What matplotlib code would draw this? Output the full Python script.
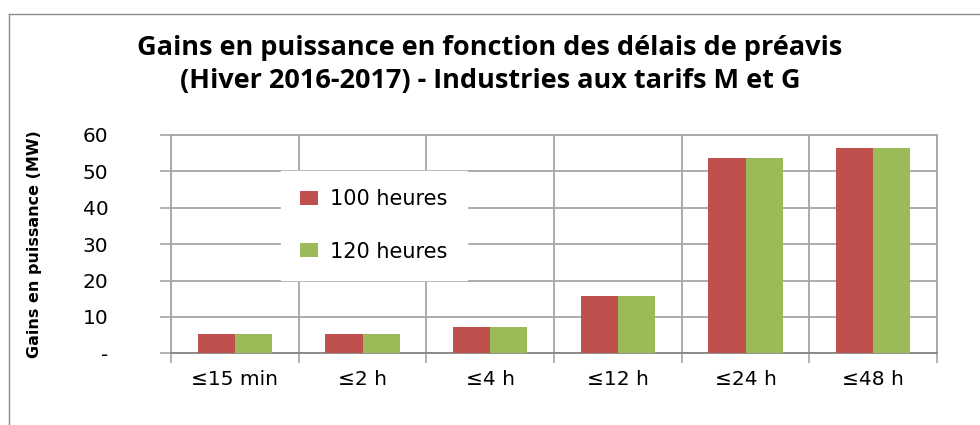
import matplotlib.pyplot as plt
from matplotlib.lines import Line2D
import numpy as np

categories = ["≤15 min", "≤2 h", "≤4 h", "≤12 h", "≤24 h", "≤48 h"]
h100 = [5.3, 5.3, 7.3, 15.7, 53.6, 56.4]
h120 = [5.3, 5.3, 7.3, 15.7, 53.6, 56.4]
series_labels = ["100 heures", "120 heures"]
yticks = [0, 10, 20, 30, 40, 50, 60]
ytick_labels = ["-", "10", "20", "30", "40", "50", "60"]

red = "#C0504D"
green = "#9BBB59"
grid_col = "#A6A6A6"

fig = plt.figure(figsize=(9.8, 4.25), dpi=100)
ax = fig.add_axes([171/980, 1-353.3/425, (937-171)/980, (353.3-135)/425])

x = np.arange(len(categories))
w = 0.29
ax.bar(x - w/2, h100, w, color=red, label=series_labels[0], zorder=3)
ax.bar(x + w/2, h120, w, color=green, label=series_labels[1], zorder=3)

ax.set_xlim(-0.5, len(categories) - 0.5)
ax.set_ylim(0, 60)
ax.set_yticks(yticks)
ax.set_yticklabels(ytick_labels, fontsize=14.5, family="DejaVu Sans")
ax.set_xticks(x)
ax.set_xticklabels(categories, fontsize=14.5, family="DejaVu Sans")
ax.set_xticks(np.arange(len(categories) + 1) - 0.5, minor=True)

ax.tick_params(axis="y", length=8, width=1.2, color=grid_col, pad=37)
ax.tick_params(axis="x", which="major", length=0, pad=12)
ax.tick_params(axis="x", which="minor", length=7, width=1.2, color=grid_col)

ax.grid(axis="y", which="major", color=grid_col, lw=1.3, zorder=0)
ax.grid(axis="x", which="minor", color=grid_col, lw=1.3, zorder=0)
for s in ax.spines.values():
    s.set_color(grid_col)
    s.set_linewidth(1.3)
ax.spines["bottom"].set_color("#868686")

leg = ax.legend(loc="center", bbox_to_anchor=(0.265, 0.585), fontsize=15,
                frameon=True, facecolor="white", edgecolor="white", framealpha=1,
                labelspacing=1.55, handlelength=0.85, handleheight=0.65,
                handletextpad=0.6, borderpad=0.9, fancybox=False)
leg.set_zorder(5)

ax.set_ylabel("Gains en puissance (MW)", family="DejaVu Sans",
              fontweight="bold", fontsize=11.5, labelpad=0)
ax.yaxis.set_label_coords(-(171-42)/766, 0.5)

fig.text(0.5, 1-48/425, "Gains en puissance en fonction des délais de préavis",
         ha="center", va="center", fontsize=19.5, fontweight="bold", family="Open Sans")
fig.text(0.5, 1-81/425, "(Hiver 2016-2017) - Industries aux tarifs M et G",
         ha="center", va="center", fontsize=19.5, fontweight="bold", family="Open Sans")

# cadre du graphique
fig.add_artist(Line2D([9/980, 9/980], [0, 1-14/425], transform=fig.transFigure, color="#8C8C8C", lw=1))
fig.add_artist(Line2D([9/980, 1], [1-14/425, 1-14/425], transform=fig.transFigure, color="#8C8C8C", lw=1))

plt.savefig("out.png")
